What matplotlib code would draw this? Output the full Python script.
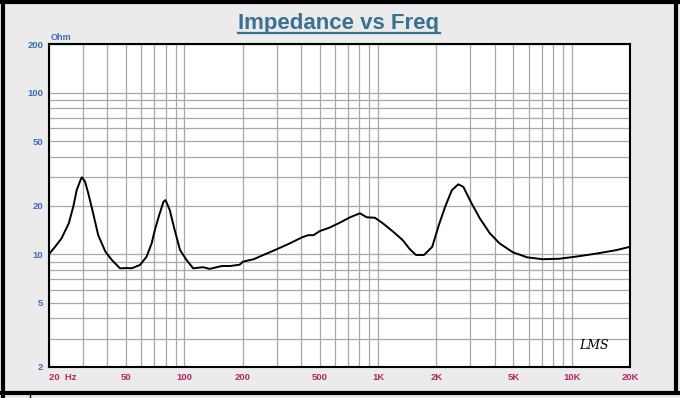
import matplotlib as mpl
mpl.use('Agg')
import matplotlib.pyplot as plt
from matplotlib.lines import Line2D
from matplotlib.ticker import FixedLocator, NullFormatter

# impedance curve (Hz, Ohm)
freq = [20, 21.5, 23.2, 25.3, 26.7, 27.8, 29.2, 29.6, 30.7, 31.9, 33.8, 35.9,
        39.1, 42.2, 46.5, 50.6, 53.4, 59.0, 63.8, 67.8, 70.4, 73.7, 78.0, 79.9,
        84.0, 89.1, 95, 102.6, 111, 125, 135, 156, 172, 193, 200.7, 228, 256,
        299, 351, 405, 436, 464, 501, 563, 638, 717, 806, 875, 963, 1060, 1194,
        1342, 1457, 1570, 1728, 1905, 2059, 2223, 2406, 2598, 2757, 3042, 3350,
        3770, 4235, 4970, 5900, 7070, 8610, 10480, 13580, 17080, 20000]
imp = [10.0, 11.1, 12.5, 15.5, 19.7, 24.9, 29.1, 29.9, 28.1, 23.8, 17.9, 13.1,
       10.36, 9.2, 8.17, 8.2, 8.17, 8.56, 9.64, 11.67, 14.1, 17.05, 21.1, 21.6,
       18.8, 14.1, 10.6, 9.2, 8.17, 8.3, 8.1, 8.44, 8.44, 8.6, 8.98, 9.3, 9.88,
       10.7, 11.67, 12.7, 13.1, 13.1, 13.9, 14.6, 15.7, 16.9, 17.9, 16.9, 16.8,
       15.5, 13.8, 12.2, 10.75, 9.88, 9.88, 11.1, 15.1, 19.7, 24.9, 27.06, 26.1,
       20.6, 16.7, 13.5, 11.67, 10.26, 9.55, 9.3, 9.36, 9.64, 10.1, 10.6, 11.1]

x_ticks = [20, 50, 100, 200, 500, 1000, 2000, 5000, 10000, 20000]
x_labels = ["20  Hz", "50", "100", "200", "500", "1K", "2K", "5K", "10K", "20K"]
y_ticks = [2, 5, 10, 20, 50, 100, 200]
y_labels = ["2", "5", "10", "20", "50", "100", "200"]

x_grid = [m * 10 ** e for e in (1, 2, 3) for m in range(1, 10)] + [10000, 20000]
x_grid = [v for v in x_grid if 20 <= v <= 20000]
y_grid = [m * 10 ** e for e in (0, 1, 2) for m in range(1, 10)] + [200]
y_grid = [v for v in y_grid if 2 <= v <= 200]

plt.rcParams['font.family'] = ['Liberation Sans', 'DejaVu Sans']

fig = plt.figure(figsize=(6.8, 3.98), dpi=100)
fig.patch.set_facecolor('#ebebeb')

ax = fig.add_axes([49 / 680, 1 - 367 / 398, 581 / 680, 323 / 398])
ax.set_xscale('log')
ax.set_yscale('log')
ax.set_xlim(20, 20000)
ax.set_ylim(2, 200)

for v in x_grid:
    ax.axvline(v, color='#a8a8a8', lw=0.9, zorder=1)
for v in y_grid:
    ax.axhline(v, color='#a8a8a8', lw=0.9, zorder=1)

ax.plot(freq, imp, color='black', lw=1.4, zorder=3, solid_joinstyle='round')

ax.xaxis.set_major_locator(FixedLocator(x_ticks))
ax.xaxis.set_minor_locator(FixedLocator([]))
ax.xaxis.set_minor_formatter(NullFormatter())
ax.set_xticklabels(x_labels)
ax.yaxis.set_major_locator(FixedLocator(y_ticks))
ax.yaxis.set_minor_locator(FixedLocator([]))
ax.yaxis.set_minor_formatter(NullFormatter())
ax.set_yticklabels(y_labels)
ax.tick_params(length=0, pad=4)
for lab in ax.get_xticklabels():
    lab.set_color('#b5275e')
    lab.set_fontsize(6.8)
    lab.set_fontweight('bold')
ax.get_xticklabels()[0].set_ha('left')
ax.get_xticklabels()[0].set_x(19)
for lab in ax.get_yticklabels():
    lab.set_color('#3b6db3')
    lab.set_fontsize(6.8)
    lab.set_fontweight('bold')

for s in ax.spines.values():
    s.set_linewidth(1.5)
    s.set_color('black')

fig.text(51 / 680, 1 - 37 / 398, "Ohm", color='#3b6db3', fontsize=6.5,
         fontweight='bold', ha='left', va='center')

t = fig.text(339 / 680, 1 - 23.5 / 398, "Impedance vs Freq", color='#3a7090',
             fontsize=16, fontweight='bold', ha='center', va='center')
fig.canvas.draw()
bb = t.get_window_extent().transformed(fig.transFigure.inverted())
fig.add_artist(Line2D([bb.x0, bb.x1], [1 - 32.5 / 398] * 2, color='#3a7090',
                      lw=1.6, transform=fig.transFigure))

ax.text(0.963, 0.045, "LMS", transform=ax.transAxes, fontsize=9,
        family='DejaVu Serif', style='italic', ha='right', va='bottom',
        zorder=4)

# window frame lines
fig.add_artist(Line2D([0, 1], [1 - 1.5 / 398] * 2, color='black', lw=3,
                      transform=fig.transFigure))
fig.add_artist(Line2D([3 / 680] * 2, [0, 1], color='black', lw=3,
                      transform=fig.transFigure))
fig.add_artist(Line2D([676 / 680] * 2, [6 / 398, 1], color='black', lw=3,
                      transform=fig.transFigure))
fig.add_artist(Line2D([0, 1], [1 - 393 / 398] * 2, color='black', lw=3,
                      transform=fig.transFigure))
fig.add_artist(Line2D([30 / 680] * 2, [0, 4 / 398], color='black', lw=1,
                      transform=fig.transFigure))

fig.savefig('out.png', dpi=100, facecolor=fig.get_facecolor())
